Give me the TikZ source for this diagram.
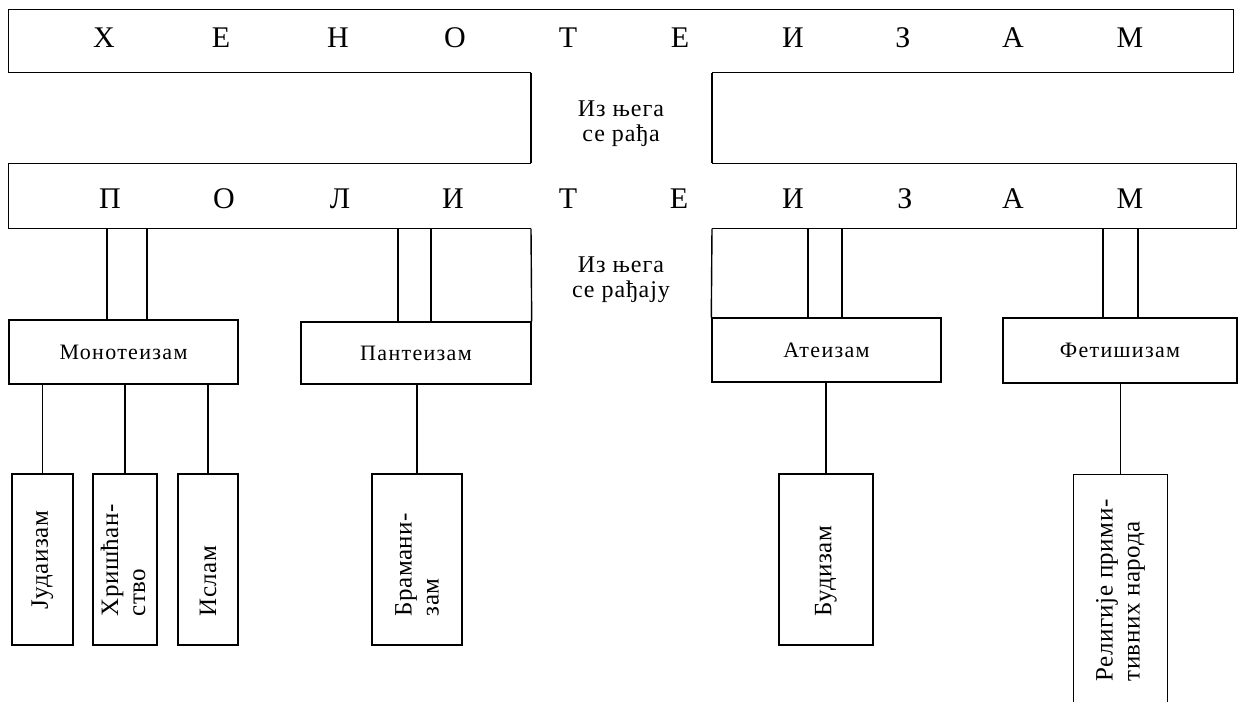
\documentclass[tikz,border=0pt]{standalone}
\usepackage{fontspec}
\setmainfont{Liberation Serif}
\tikzset{
  letter/.style={font=\fontsize{15}{18}\selectfont, inner sep=0pt},
  frame/.style={inner sep=0pt},
  kind/.style={draw, inner sep=0pt, font=\fontsize{11}{13}\selectfont\addfontfeature{LetterSpace=6}},
  leaf/.style={draw, inner sep=0pt, minimum height=85.5pt},
  leaftext/.style={rotate=90, anchor=west, align=left, inner sep=0pt, font=\fontsize{12.5}{13.5}\selectfont\addfontfeature{LetterSpace=2}},
  gaptext/.style={align=center, inner sep=0pt, font=\fontsize{12}{12.5}\selectfont\addfontfeature{LetterSpace=4}}
}
\begin{document}
\begin{tikzpicture}[x=0.5pt, y=-0.5pt, line width=0.7pt]
\useasboundingbox (0,0) rectangle (1239,702);
% henotheism
\node[frame, minimum width=612pt, minimum height=31pt] (henot) at (621,41){};
\node[letter] (h1) at (104,38){Х};
\node[letter] (h2) at (221,38){Е};
\node[letter] (h3) at (338,38){Н};
\node[letter] (h4) at (455,38){О};
\node[letter] (h5) at (568,38){Т};
\node[letter] (h6) at (680,38){Е};
\node[letter] (h7) at (793,38){И};
\node[letter] (h8) at (903,38){З};
\node[letter] (h9) at (1013,38){А};
\node[letter] (h10) at (1130,38){М};
% polytheism
\node[frame, minimum width=613.5pt, minimum height=32pt] (polit) at (622.5,196){};
\node[letter] (p1) at (110,199){П};
\node[letter] (p2) at (224,199){О};
\node[letter] (p3) at (340,199){Л};
\node[letter] (p4) at (453,199){И};
\node[letter] (p5) at (568,199){Т};
\node[letter] (p6) at (679,199){Е};
\node[letter] (p7) at (793,199){И};
\node[letter] (p8) at (905,199){З};
\node[letter] (p9) at (1013,199){А};
\node[letter] (p10) at (1130,199){М};
\coordinate (wl) at (531,0);
\coordinate (wr) at (712,0);
\draw (henot.south -| wl) -- (henot.south west) -- (henot.north west) -- (henot.north east) -- (henot.south east) -- (henot.south -| wr);
\draw (polit.north -| wl) -- (polit.north west) -- (polit.south west) -- (polit.south -| wl);
\draw (polit.north -| wr) -- (polit.north east) -- (polit.south east) -- (polit.south -| wr);
\draw (henot.south -| wl) -- (polit.north -| wl);
\draw (henot.south -| wr) -- (polit.north -| wr);
\node[gaptext] (gap1) at (621,124){Из њега\\се рађа};
% four kinds
\node[kind, minimum width=114.5pt, minimum height=32pt] (mono) at (123.5,352){Монотеизам};
\node[kind, minimum width=115pt, minimum height=31pt] (panth) at (416,353){Пантеизам};
\node[kind, minimum width=114.5pt, minimum height=32pt] (athe) at (826.5,350){Атеизам};
\node[kind, minimum width=117pt, minimum height=32.5pt] (fetish) at (1120,350.5){Фетишизам};
\draw (polit.south -| wl) -- (panth.north east);
\draw (polit.south -| wr) -- (athe.north west);
\node[gaptext] (gap2) at (621,280){Из њега\\се рађају};
\draw ([xshift=-8.25pt]mono.north) -- ([xshift=-8.25pt]mono.north |- polit.south);
\draw ([xshift=11.75pt]mono.north) -- ([xshift=11.75pt]mono.north |- polit.south);
\draw ([xshift=-9pt]panth.north) -- ([xshift=-9pt]panth.north |- polit.south);
\draw ([xshift=7.5pt]panth.north) -- ([xshift=7.5pt]panth.north |- polit.south);
\draw ([xshift=-9.25pt]athe.north) -- ([xshift=-9.25pt]athe.north |- polit.south);
\draw ([xshift=7.75pt]athe.north) -- ([xshift=7.75pt]athe.north |- polit.south);
\draw ([xshift=-8.5pt]fetish.north) -- ([xshift=-8.5pt]fetish.north |- polit.south);
\draw ([xshift=9pt]fetish.north) -- ([xshift=9pt]fetish.north |- polit.south);
% religions
\node[leaf, minimum width=30.5pt] (jud) at (42.5,559.5){};
\node[leaftext] (judtxt) at (42.5,610){Јудаизам};
\node[leaf, minimum width=32pt] (chr) at (125,559.5){};
\node[leaftext] (chrtxt) at (123,617){Хришћан-\\ство};
\node[leaf, minimum width=30pt] (isl) at (208,559.5){};
\node[leaftext] (isltxt) at (208,617){Ислам};
\node[leaf, minimum width=45pt] (brahm) at (417,559.5){};
\node[leaftext] (brahmtxt) at (417,617){Брамани-\\зам};
\node[leaf, minimum width=47pt] (budd) at (826,559.5){};
\node[leaftext] (buddtxt) at (826,617){Будизам};
\node[frame, minimum width=46.5pt, minimum height=113.5pt] (rel) at (1120.5,588.5){};
\draw (rel.south west) -- (rel.north west) -- (rel.north east) -- (rel.south east);
\node[leaftext] (reltxt) at (1120.5,682){Религије прими-\\тивних народа};
\draw (jud.north) -- (jud.north |- mono.south);
\draw (chr.north) -- (chr.north |- mono.south);
\draw (isl.north) -- (isl.north |- mono.south);
\draw (brahm.north) -- (brahm.north |- panth.south);
\draw (budd.north) -- (budd.north |- athe.south);
\draw (rel.north) -- (rel.north |- fetish.south);
\end{tikzpicture}
\end{document}
